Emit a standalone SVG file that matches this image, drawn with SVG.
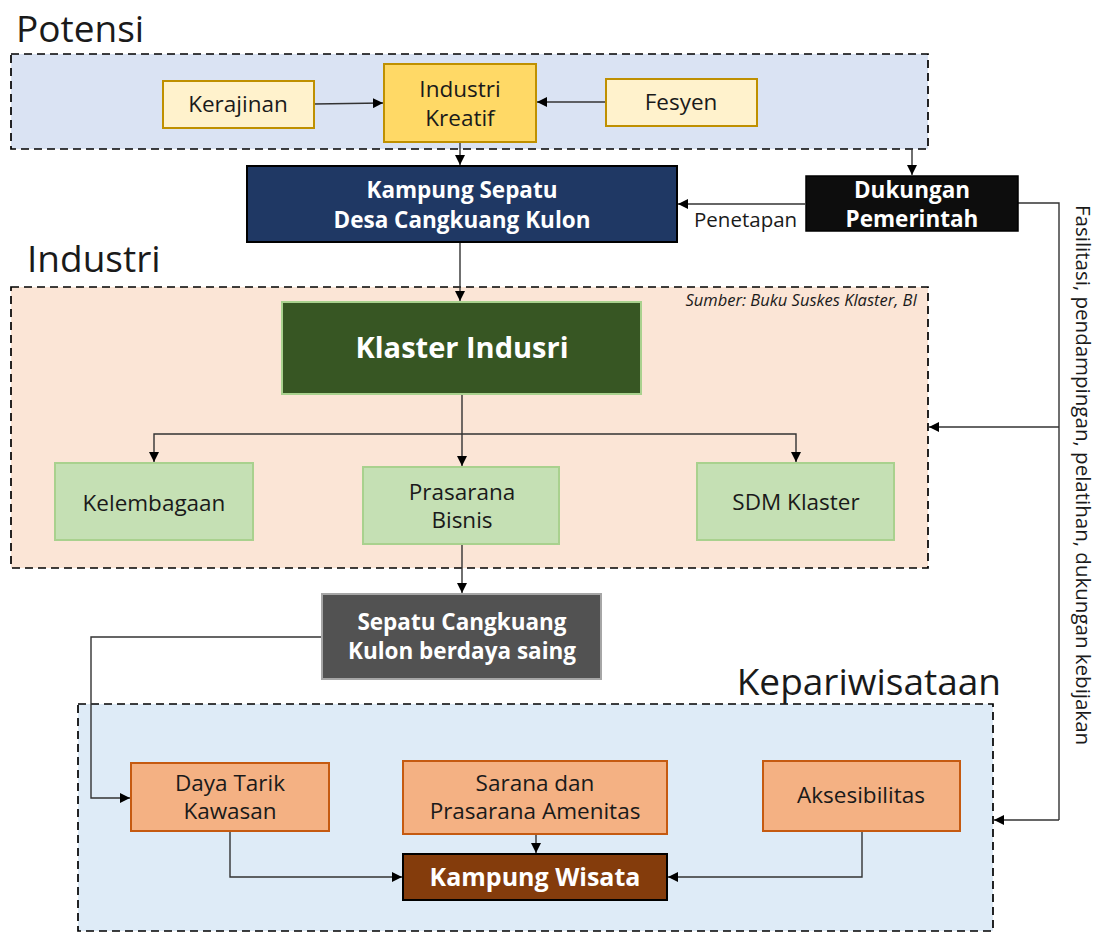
<svg xmlns="http://www.w3.org/2000/svg" width="1101" height="933" viewBox="0 0 1101 933">
  <style>
    text { font-family: "Open Sans", "Noto Sans", "DejaVu Sans", sans-serif; fill: #1a1a1a; }
    .title { font-size: 37px; }
    .lbl { font-size: 22.5px; text-anchor: middle; }
    .wb { font-size: 22.5px; font-weight: bold; fill: #ffffff; text-anchor: middle; }
    .wb-big { font-size: 29px; }
    .wb-mid { font-size: 25px; }
    .zone { stroke: #000; stroke-width: 1.7; stroke-dasharray: 8 5; }
    .cream { fill: #fff2cc; stroke: #bf9000; stroke-width: 2; }
    .gold { fill: #ffd966; stroke: #bf9000; stroke-width: 2; }
    .green { fill: #c5e0b4; stroke: #a9d18e; stroke-width: 2; }
    .peach { fill: #f4b183; stroke: #c55a11; stroke-width: 2; }
    .conn { fill: none; stroke: #333; stroke-width: 1.4; }
  </style>
  <defs>
    <marker id="arr" viewBox="0 0 10 10" refX="10" refY="5" markerWidth="10" markerHeight="10" markerUnits="userSpaceOnUse" orient="auto">
      <path d="M0,0 L10,5 L0,10 Z" fill="#000"/>
    </marker>
  </defs>

  <!-- zone backgrounds -->
  <g id="zone-potensi">
    <rect class="zone" x="11" y="54" width="917" height="95" fill="#dae3f3"/>
    <text class="title" x="16" y="42">Potensi</text>
  </g>
  <g id="zone-industri">
    <rect class="zone" x="11" y="287" width="917" height="281" fill="#fbe5d6"/>
    <text class="title" x="27" y="272">Industri</text>
    <text x="917" y="306" font-size="16.5" font-style="italic" text-anchor="end">Sumber: Buku Suskes Klaster, BI</text>
  </g>
  <g id="zone-kepariwisataan">
    <rect class="zone" x="78" y="704" width="915" height="227" fill="#deebf7"/>
    <text class="title" x="1001" y="695" text-anchor="end">Kepariwisataan</text>
  </g>

  <!-- connectors -->
  <g id="connectors">
    <path class="conn" d="M314,104 L383,103" marker-end="url(#arr)"/>
    <path class="conn" d="M606,102 L537,102" marker-end="url(#arr)"/>
    <path class="conn" d="M460,142 L460,165" marker-end="url(#arr)"/>
    <path class="conn" d="M912,149 L912,175" marker-end="url(#arr)"/>
    <path class="conn" d="M805,204 L678,204" marker-end="url(#arr)"/>
    <path class="conn" d="M1018,203 L1059,203 L1059,820"/>
    <path class="conn" d="M1059,427 L929,427" marker-end="url(#arr)"/>
    <path class="conn" d="M1059,820 L994,820" marker-end="url(#arr)"/>
    <path class="conn" d="M460,242 L460,301" marker-end="url(#arr)"/>
    <path class="conn" d="M462,394 L462,466" marker-end="url(#arr)"/>
    <path class="conn" d="M462,434 L154,434 L154,462" marker-end="url(#arr)"/>
    <path class="conn" d="M462,434 L796,434 L796,462" marker-end="url(#arr)"/>
    <path class="conn" d="M462,544 L462,593" marker-end="url(#arr)"/>
    <path class="conn" d="M322,637 L91,637 L91,798 L130,798" marker-end="url(#arr)"/>
    <path class="conn" d="M230,831 L230,877 L402,877" marker-end="url(#arr)"/>
    <path class="conn" d="M536,834 L536,853" marker-end="url(#arr)"/>
    <path class="conn" d="M862,831 L862,877 L668,877" marker-end="url(#arr)"/>
    <text x="694" y="227" font-size="20.5">Penetapan</text>
    <text transform="translate(1076,205) rotate(90)" font-size="20.5">Fasilitasi, pendampingan, pelatihan, dukungan kebijakan</text>
  </g>

  <!-- nodes -->
  <g id="kerajinan">
    <rect class="cream" x="163" y="81" width="151" height="47"/>
    <text class="lbl" x="238" y="112">Kerajinan</text>
  </g>
  <g id="industri-kreatif">
    <rect class="gold" x="384" y="64" width="152" height="78"/>
    <text class="lbl" x="460" y="97">Industri</text>
    <text class="lbl" x="460" y="126">Kreatif</text>
  </g>
  <g id="fesyen">
    <rect class="cream" x="606" y="79" width="151" height="47"/>
    <text class="lbl" x="681" y="110">Fesyen</text>
  </g>
  <g id="kampung-sepatu">
    <rect x="247" y="166" width="430" height="76" fill="#1f3864" stroke="#000" stroke-width="2"/>
    <text class="wb" x="462" y="198">Kampung Sepatu</text>
    <text class="wb" x="462" y="228">Desa Cangkuang Kulon</text>
  </g>
  <g id="dukungan-pemerintah">
    <rect x="806" y="176" width="212" height="55" fill="#0d0d0d" stroke="#000" stroke-width="1.5"/>
    <text class="wb" x="912" y="198">Dukungan</text>
    <text class="wb" x="912" y="227">Pemerintah</text>
  </g>
  <g id="klaster-industri">
    <rect x="282" y="302" width="359" height="92" fill="#375623" stroke="#a9d18e" stroke-width="2"/>
    <text class="wb wb-big" x="462" y="358">Klaster Indusri</text>
  </g>
  <g id="kelembagaan">
    <rect class="green" x="55" y="463" width="198" height="77"/>
    <text class="lbl" x="154" y="511">Kelembagaan</text>
  </g>
  <g id="prasarana-bisnis">
    <rect class="green" x="363" y="467" width="196" height="77"/>
    <text class="lbl" x="462" y="500">Prasarana</text>
    <text class="lbl" x="462" y="528">Bisnis</text>
  </g>
  <g id="sdm-klaster">
    <rect class="green" x="697" y="463" width="197" height="77"/>
    <text class="lbl" x="796" y="510">SDM Klaster</text>
  </g>
  <g id="sepatu-berdaya-saing">
    <rect x="322" y="594" width="279" height="85" fill="#525252" stroke="#a6a6a6" stroke-width="2"/>
    <text class="wb" x="462" y="630">Sepatu Cangkuang</text>
    <text class="wb" x="462" y="659">Kulon berdaya saing</text>
  </g>
  <g id="daya-tarik-kawasan">
    <rect class="peach" x="131" y="763" width="198" height="68"/>
    <text class="lbl" x="230" y="791">Daya Tarik</text>
    <text class="lbl" x="230" y="819">Kawasan</text>
  </g>
  <g id="sarana-prasarana-amenitas">
    <rect class="peach" x="403" y="761" width="264" height="73"/>
    <text class="lbl" x="535" y="791">Sarana dan</text>
    <text class="lbl" x="535" y="819">Prasarana Amenitas</text>
  </g>
  <g id="aksesibilitas">
    <rect class="peach" x="763" y="761" width="197" height="70"/>
    <text class="lbl" x="861" y="803">Aksesibilitas</text>
  </g>
  <g id="kampung-wisata">
    <rect x="403" y="854" width="264" height="46" fill="#843c0c" stroke="#000" stroke-width="2"/>
    <text class="wb wb-mid" x="535" y="886">Kampung Wisata</text>
  </g>
</svg>
